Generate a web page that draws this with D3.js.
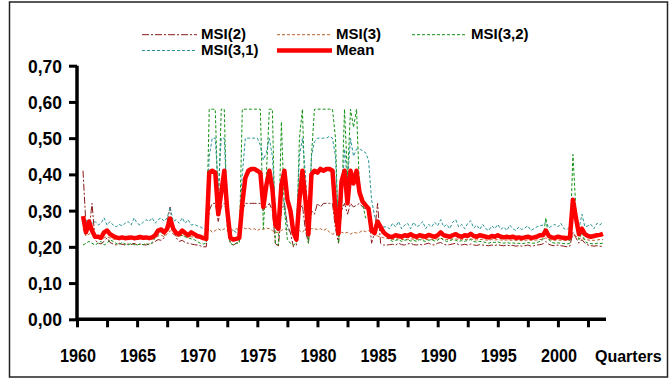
<!DOCTYPE html>
<html>
<head>
<meta charset="utf-8">
<script src="https://cdn.jsdelivr.net/npm/d3@7"></script>
<style>
  body { margin: 0; background: #fff; }
  svg text { font-family: "Liberation Sans", Arial, sans-serif; font-weight: bold; fill: #000; }
</style>
</head>
<body>
<div id="chart"></div>
<script>
// quarterly series, first value = 1960Q3 (index 2 on the category axis)
const firstIndex = 2
const nQuarters = 176

const msi2 = [
  0.41,0.255,0.245,0.32,0.22,0.21,0.208,0.215,0.225,0.212,
  0.208,0.205,0.21,0.207,0.205,0.208,0.206,0.21,0.205,0.208,
  0.206,0.205,0.208,0.21,0.215,0.22,0.218,0.225,0.27,0.31,
  0.245,0.225,0.215,0.218,0.212,0.21,0.208,0.206,0.205,0.203,
  0.2,0.2,0.3,0.32,0.32,0.27,0.31,0.32,0.29,0.21,
  0.205,0.21,0.215,0.3,0.32,0.32,0.32,0.32,0.32,0.32,
  0.3,0.31,0.32,0.3,0.21,0.2,0.3,0.32,0.26,0.24,
  0.2,0.205,0.3,0.315,0.245,0.21,0.3,0.29,0.32,0.31,
  0.32,0.32,0.32,0.32,0.25,0.21,0.3,0.32,0.29,0.32,
  0.31,0.315,0.32,0.31,0.305,0.3,0.21,0.24,0.32,0.21,
  0.205,0.205,0.206,0.207,0.205,0.21,0.206,0.205,0.208,0.21,
  0.206,0.205,0.207,0.205,0.208,0.21,0.206,0.205,0.21,0.212,
  0.207,0.205,0.206,0.208,0.21,0.206,0.205,0.207,0.205,0.208,
  0.205,0.204,0.206,0.205,0.204,0.203,0.205,0.204,0.206,0.204,
  0.203,0.205,0.203,0.204,0.202,0.203,0.202,0.203,0.205,0.202,
  0.203,0.205,0.206,0.208,0.215,0.207,0.204,0.203,0.205,0.203,
  0.202,0.2,0.202,0.24,0.225,0.21,0.22,0.21,0.205,0.203,
  0.202,0.203,0.202,0.2
]

const msi3 = [
  0.25,0.23,0.235,0.24,0.225,0.222,0.22,0.225,0.228,0.224,
  0.222,0.22,0.221,0.22,0.222,0.22,0.221,0.22,0.222,0.221,
  0.22,0.222,0.221,0.222,0.225,0.23,0.232,0.228,0.235,0.245,
  0.235,0.23,0.228,0.232,0.228,0.226,0.228,0.226,0.225,0.224,
  0.232,0.24,0.25,0.24,0.245,0.25,0.245,0.25,0.245,0.25,
  0.245,0.25,0.248,0.255,0.25,0.252,0.248,0.25,0.245,0.25,
  0.248,0.252,0.25,0.245,0.24,0.24,0.245,0.25,0.245,0.24,
  0.238,0.24,0.245,0.24,0.25,0.245,0.25,0.25,0.248,0.25,
  0.245,0.25,0.24,0.235,0.238,0.235,0.24,0.238,0.24,0.235,
  0.24,0.238,0.24,0.245,0.242,0.245,0.238,0.232,0.23,0.228,
  0.225,0.223,0.222,0.22,0.221,0.222,0.22,0.221,0.22,0.222,
  0.221,0.22,0.221,0.222,0.22,0.221,0.22,0.221,0.222,0.224,
  0.221,0.22,0.221,0.222,0.222,0.22,0.221,0.22,0.221,0.222,
  0.22,0.219,0.22,0.22,0.219,0.218,0.22,0.219,0.22,0.219,
  0.218,0.219,0.218,0.219,0.217,0.218,0.217,0.218,0.219,0.218,
  0.218,0.219,0.22,0.221,0.225,0.22,0.218,0.218,0.219,0.218,
  0.218,0.217,0.218,0.235,0.23,0.222,0.225,0.22,0.219,0.218,
  0.218,0.219,0.22,0.22
]

const msi32 = [
  0.205,0.21,0.215,0.21,0.205,0.21,0.215,0.205,0.21,0.22,
  0.215,0.21,0.205,0.212,0.208,0.205,0.21,0.206,0.205,0.208,
  0.206,0.21,0.205,0.212,0.225,0.235,0.24,0.235,0.245,0.275,
  0.245,0.235,0.23,0.232,0.228,0.225,0.222,0.22,0.215,0.21,
  0.208,0.21,0.58,0.58,0.58,0.3,0.58,0.58,0.25,0.21,
  0.205,0.21,0.21,0.58,0.58,0.58,0.58,0.58,0.58,0.58,
  0.25,0.4,0.58,0.58,0.21,0.205,0.545,0.3,0.22,0.21,
  0.205,0.21,0.5,0.58,0.3,0.21,0.45,0.58,0.58,0.58,
  0.58,0.58,0.58,0.58,0.5,0.21,0.3,0.58,0.39,0.58,
  0.53,0.58,0.355,0.32,0.28,0.28,0.265,0.26,0.265,0.25,
  0.24,0.23,0.22,0.215,0.218,0.22,0.215,0.218,0.22,0.216,
  0.218,0.215,0.22,0.217,0.215,0.218,0.22,0.216,0.218,0.225,
  0.218,0.215,0.217,0.22,0.218,0.215,0.217,0.215,0.218,0.22,
  0.215,0.213,0.215,0.214,0.212,0.21,0.213,0.212,0.214,0.211,
  0.21,0.212,0.21,0.211,0.209,0.21,0.209,0.21,0.212,0.21,
  0.21,0.212,0.215,0.22,0.28,0.22,0.212,0.21,0.211,0.21,
  0.209,0.208,0.21,0.455,0.3,0.22,0.24,0.215,0.21,0.209,
  0.208,0.21,0.209,0.21
]

const msi31 = [
  0.265,0.275,0.255,0.265,0.27,0.26,0.265,0.28,0.26,0.27,
  0.26,0.255,0.262,0.258,0.265,0.27,0.26,0.28,0.265,0.26,
  0.268,0.275,0.27,0.28,0.265,0.275,0.28,0.27,0.28,0.31,
  0.27,0.275,0.265,0.28,0.265,0.275,0.26,0.262,0.258,0.255,
  0.25,0.248,0.45,0.5,0.5,0.36,0.5,0.5,0.3,0.24,
  0.245,0.24,0.25,0.4,0.5,0.5,0.5,0.5,0.5,0.48,
  0.44,0.46,0.5,0.45,0.3,0.25,0.35,0.32,0.25,0.24,
  0.24,0.25,0.45,0.5,0.4,0.25,0.45,0.49,0.5,0.5,
  0.5,0.5,0.505,0.5,0.45,0.255,0.3,0.47,0.38,0.5,
  0.45,0.47,0.47,0.465,0.46,0.44,0.33,0.285,0.27,0.26,
  0.255,0.255,0.25,0.265,0.255,0.27,0.25,0.26,0.265,0.25,
  0.268,0.255,0.26,0.27,0.25,0.262,0.255,0.268,0.258,0.275,
  0.255,0.262,0.25,0.268,0.275,0.255,0.262,0.25,0.265,0.272,
  0.252,0.26,0.248,0.262,0.25,0.245,0.258,0.25,0.262,0.248,
  0.255,0.245,0.26,0.25,0.245,0.255,0.248,0.252,0.258,0.245,
  0.25,0.255,0.258,0.26,0.27,0.252,0.258,0.262,0.255,0.265,
  0.25,0.248,0.255,0.33,0.26,0.25,0.29,0.255,0.258,0.262,
  0.25,0.265,0.26,0.27
]

const meanSeries = [
  0.285,0.24,0.27,0.245,0.228,0.228,0.225,0.24,0.245,0.235,
  0.23,0.226,0.224,0.226,0.224,0.225,0.226,0.224,0.225,0.227,
  0.225,0.226,0.224,0.226,0.232,0.245,0.248,0.24,0.25,0.278,
  0.25,0.238,0.235,0.245,0.238,0.232,0.24,0.235,0.23,0.228,
  0.224,0.222,0.405,0.41,0.405,0.29,0.35,0.41,0.3,0.225,
  0.22,0.222,0.225,0.32,0.39,0.41,0.415,0.415,0.41,0.405,
  0.31,0.37,0.41,0.36,0.26,0.25,0.37,0.41,0.33,0.3,
  0.24,0.22,0.33,0.41,0.33,0.235,0.40,0.41,0.405,0.415,
  0.41,0.415,0.415,0.41,0.3,0.237,0.38,0.41,0.32,0.41,
  0.375,0.41,0.35,0.325,0.315,0.305,0.245,0.238,0.27,0.255,
  0.24,0.233,0.228,0.228,0.232,0.23,0.228,0.232,0.23,0.235,
  0.23,0.228,0.232,0.23,0.228,0.233,0.23,0.228,0.232,0.24,
  0.232,0.23,0.228,0.232,0.235,0.23,0.228,0.232,0.23,0.236,
  0.23,0.228,0.232,0.23,0.228,0.226,0.23,0.228,0.232,0.228,
  0.226,0.228,0.226,0.228,0.225,0.226,0.224,0.226,0.228,0.225,
  0.226,0.228,0.232,0.232,0.245,0.23,0.226,0.225,0.228,0.226,
  0.225,0.224,0.226,0.33,0.28,0.235,0.25,0.235,0.23,0.228,
  0.23,0.232,0.233,0.236
]

const seriesNames = ["MSI(2)", "MSI(3)", "MSI(3,2)", "MSI(3,1)", "Mean"]
const yTicks = [0, 0.1, 0.2, 0.3, 0.4, 0.5, 0.6, 0.7]
const yearLabels = ["1960", "1965", "1970", "1975", "1980", "1985", "1990", "1995", "2000"]

const series = [
  { name: seriesNames[0], values: msi2, color: "#8b1a1a", width: 1, dash: "7,2,2,2" },
  { name: seriesNames[1], values: msi3, color: "#b8602a", width: 1, dash: "3,2" },
  { name: seriesNames[2], values: msi32, color: "#119111", width: 1, dash: "3,2" },
  { name: seriesNames[3], values: msi31, color: "#2a9494", width: 1, dash: "3,2" },
  { name: seriesNames[4], values: meanSeries, color: "#ff0000", width: 4.5, dash: null }
]

var svg = d3.select("#chart").append("svg")
  .attr("width", 670)
  .attr("height", 379)

// frame round the whole chart
svg.append("rect")
  .attr("x", 9.5).attr("y", 2)
  .attr("width", 658).attr("height", 375)
  .attr("fill", "none")
  .attr("stroke", "#222")
  .attr("stroke-width", 1.5)

var xScale = d3.scaleLinear().domain([0, nQuarters]).range([77, 606])
var yScale = d3.scaleLinear().domain([0, 0.7]).range([319.3, 65.7])

// y axis
var yAxis = svg.append("g")
  .attr("transform", "translate(77,0)")
  .call(d3.axisLeft(yScale).tickValues(yTicks).tickSize(8).tickFormat(d => d.toFixed(2).replace(".", ",")))
yAxis.select(".domain").attr("stroke", "#000").attr("stroke-width", 3.5)
  .attr("d", "M0," + yScale(0.7) + "V" + yScale(0))
yAxis.selectAll(".tick line").attr("stroke", "#000").attr("stroke-width", 3)
yAxis.selectAll(".tick text")
  .attr("x", -15)
  .attr("dy", "0.36em")
  .attr("textLength", 34)
  .attr("lengthAdjust", "spacingAndGlyphs")
  .style("font-size", "18px")
  .style("font-family", "'Liberation Sans', Arial, sans-serif")
  .style("font-weight", "bold")

// x axis, one tick every 10 quarters, a label every 20
var xAxis = svg.append("g")
  .attr("transform", "translate(0," + yScale(0) + ")")
  .call(d3.axisBottom(xScale).tickValues(d3.range(0, nQuarters, 10)).tickSize(8).tickFormat(""))
xAxis.select(".domain").attr("stroke", "#000").attr("stroke-width", 3.5)
  .attr("d", "M77,0H606")
xAxis.selectAll(".tick line").attr("stroke", "#000").attr("stroke-width", 3)

svg.append("g").selectAll("text").data(yearLabels)
  .enter().append("text")
  .attr("x", (d, i) => xScale(i * 20) + 1)
  .attr("y", 362)
  .attr("text-anchor", "middle")
  .attr("textLength", 36)
  .attr("lengthAdjust", "spacingAndGlyphs")
  .style("font-size", "18px")
  .text(d => d)

svg.append("text")
  .attr("x", 595)
  .attr("y", 362)
  .style("font-size", "16px")
  .text("Quarters")

// series lines
var line = d3.line()
  .defined(d => d != null)
  .x((d, i) => xScale(i + firstIndex))
  .y(d => yScale(d))

svg.append("g").selectAll("path").data(series)
  .enter().append("path")
  .attr("d", d => line(d.values))
  .attr("fill", "none")
  .attr("stroke", d => d.color)
  .attr("stroke-width", d => d.width)
  .attr("stroke-dasharray", d => d.dash)
  .attr("stroke-linejoin", "round")

// legend, two rows
var legendPos = [
  { x: 142, y: 34.7 }, { x: 277, y: 34.7 }, { x: 412, y: 34.7 },
  { x: 142, y: 50.5 }, { x: 277, y: 50.5 }
]
var legend = svg.append("g").selectAll("g").data(series)
  .enter().append("g")
  .attr("transform", (d, i) => "translate(" + legendPos[i].x + "," + legendPos[i].y + ")")

legend.append("line")
  .attr("x1", 0).attr("x2", 55)
  .attr("stroke", d => d.color)
  .attr("stroke-width", d => d.width)
  .attr("stroke-dasharray", d => d.dash)

legend.append("text")
  .attr("x", 59)
  .attr("y", 4)
  .style("font-size", "15px")
  .text(d => d.name)
</script>
</body>
</html>
